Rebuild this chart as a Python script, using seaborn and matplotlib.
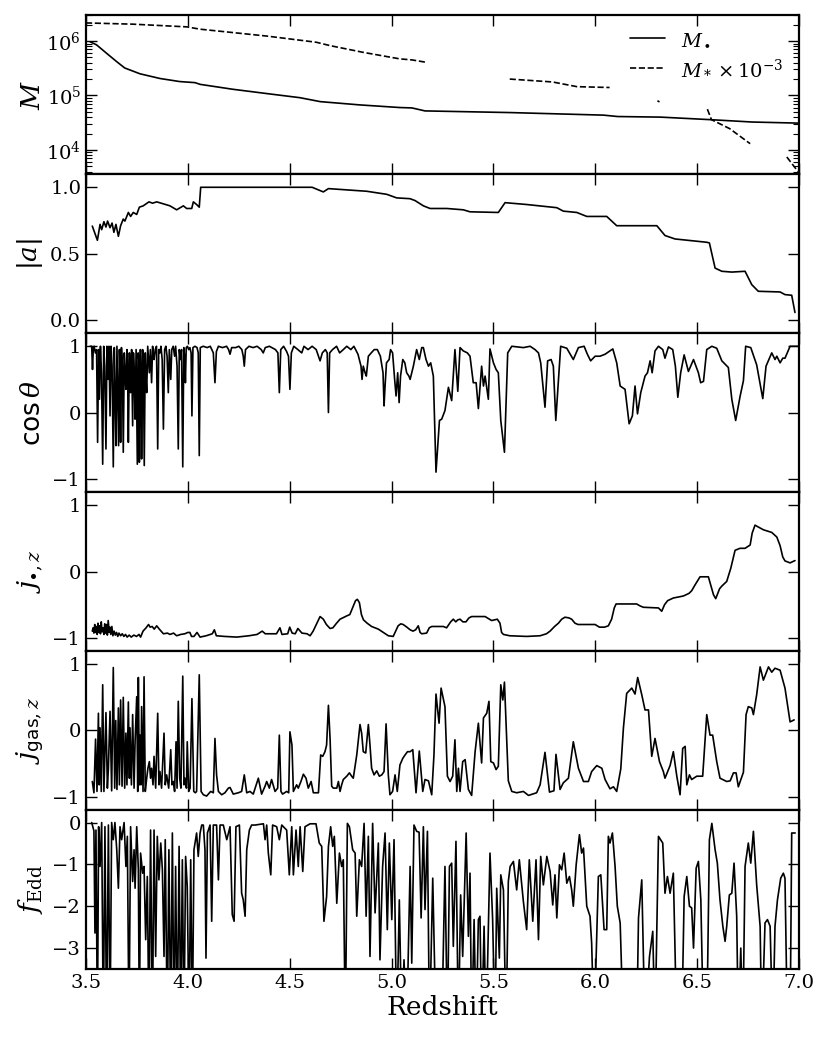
import matplotlib
matplotlib.use("Agg")
import matplotlib.pyplot as plt
import seaborn as sns
import pandas as pd
from matplotlib.lines import Line2D
from matplotlib.ticker import FixedLocator

# ---------------- data ----------------
mbh_pts = [(3.52, 9.7e5), (3.552, 8.5e5), (3.60, 6.0e5), (3.65, 4.2e5), (3.69, 3.2e5),
           (3.765, 2.5e5), (3.863, 2.05e5), (3.96, 1.8e5), (4.035, 1.72e5), (4.06, 1.6e5),
           (4.22, 1.3e5), (4.39, 1.08e5), (4.55, 9.1e4), (4.65, 7.7e4), (4.845, 6.7e4),
           (5.04, 6.0e4), (5.10, 5.9e4), (5.164, 5.2e4), (5.58, 4.85e4), (6.04, 4.35e4),
           (6.11, 4.1e4), (6.32, 4.0e4), (6.56, 3.6e4), (6.77, 3.25e4), (7.0, 3.1e4)]

mstar_segments = [
    [(3.50, 2.15e6), (3.73, 2.04e6), (3.995, 1.82e6), (4.06, 1.65e6), (4.39, 1.23e6),
     (4.63, 9.5e5), (4.70, 8.2e5), (4.86, 6.2e5), (5.04, 4.7e5), (5.10, 4.5e5), (5.164, 4.1e5)],
    [(5.58, 2.0e5), (5.79, 1.77e5), (5.91, 1.45e5), (6.07, 1.4e5)],
    [(6.305, 8.0e4), (6.315, 7.6e4)],
    [(6.55, 5.6e4), (6.57, 3.6e4), (6.66, 2.45e4), (6.76, 1.3e4)],
    [(6.94, 7.4e3), (6.995, 4.0e3)],
]

spin_pts = [(3.531, 0.707), (3.556, 0.60), (3.569, 0.72), (3.577, 0.68), (3.588, 0.74),
            (3.598, 0.70), (3.606, 0.745), (3.618, 0.695), (3.628, 0.73), (3.637, 0.66),
            (3.647, 0.72), (3.659, 0.63), (3.670, 0.71), (3.683, 0.76), (3.691, 0.745),
            (3.708, 0.81), (3.719, 0.78), (3.732, 0.81), (3.749, 0.795), (3.762, 0.85),
            (3.781, 0.86), (3.809, 0.89), (3.827, 0.88), (3.847, 0.89), (3.880, 0.875),
            (3.912, 0.86), (3.945, 0.83), (3.978, 0.86), (3.994, 0.84), (4.019, 0.84),
            (4.027, 0.89), (4.043, 0.87), (4.056, 0.85), (4.063, 1.0), (4.61, 1.0),
            (4.665, 0.965), (4.69, 0.99), (4.878, 0.97), (4.976, 0.947), (5.025, 0.92),
            (5.09, 0.914), (5.115, 0.90), (5.156, 0.86), (5.189, 0.84), (5.271, 0.84),
            (5.352, 0.83), (5.385, 0.815), (5.524, 0.81), (5.557, 0.884), (5.663, 0.87),
            (5.811, 0.846), (5.843, 0.82), (5.909, 0.81), (5.958, 0.78), (6.056, 0.78),
            (6.105, 0.71), (6.302, 0.71), (6.342, 0.636), (6.391, 0.61), (6.547, 0.585),
            (6.56, 0.58), (6.588, 0.39), (6.621, 0.366), (6.67, 0.36), (6.735, 0.366),
            (6.768, 0.265), (6.80, 0.215), (6.907, 0.21), (6.931, 0.19), (6.964, 0.185),
            (6.98, 0.055)]

cos_pts = [(3.520, 1.0), (3.528, 1.0), (3.532, 0.65), (3.536, 0.98), (3.540, 1.0), (3.546, 0.9),
           (3.552, 0.95), (3.557, -0.45), (3.562, 0.95), (3.566, 0.2), (3.571, 1.0), (3.576, 0.6),
           (3.582, -0.78), (3.587, 1.0), (3.592, 0.7), (3.598, -0.55), (3.603, 1.0), (3.608, 0.5),
           (3.613, 1.0), (3.618, -0.05), (3.623, 1.0), (3.628, 0.7), (3.634, -0.82), (3.639, 0.98),
           (3.643, 0.3), (3.647, -0.5), (3.652, 1.0), (3.656, 0.2), (3.660, -0.5), (3.664, 0.95),
           (3.667, 0.6), (3.670, -0.45), (3.674, 0.98), (3.679, 0.7), (3.683, -0.6), (3.688, 0.9),
           (3.692, 0.6), (3.696, 0.35), (3.701, 0.95), (3.704, 0.65), (3.708, -0.45), (3.713, 0.9),
           (3.716, 0.5), (3.719, 0.3), (3.724, 0.95), (3.729, -0.2), (3.733, 0.9), (3.737, 0.6),
           (3.741, -0.1), (3.746, 0.95), (3.752, -0.78), (3.756, 0.9), (3.759, 0.8), (3.762, -0.75),
           (3.767, 0.95), (3.770, 0.6), (3.773, -0.7), (3.778, 0.95), (3.782, 0.7), (3.786, -0.8),
           (3.791, 0.9), (3.794, 0.55), (3.798, 0.3), (3.803, 1.0), (3.807, 0.8), (3.811, 0.6),
           (3.816, 0.95), (3.819, 0.7), (3.822, 0.45), (3.827, 1.0), (3.831, 0.85), (3.834, 0.8),
           (3.840, 0.95), (3.846, 1.0), (3.852, -0.55), (3.857, 0.95), (3.863, 0.9), (3.868, 1.0),
           (3.874, 0.8), (3.880, -0.25), (3.886, 0.95), (3.892, 1.0), (3.898, 0.85), (3.904, 0.3),
           (3.909, 0.95), (3.916, 0.5), (3.921, 0.95), (3.928, 1.0), (3.935, 0.85), (3.940, 1.0),
           (3.947, 0.7), (3.953, -0.55), (3.958, 0.95), (3.963, 0.8), (3.969, 0.95), (3.975, -0.82),
           (3.980, 0.98), (3.985, 0.8), (3.988, 0.45), (3.992, 0.98), (3.998, 1.0), (4.004, 0.95),
           (4.010, 0.98), (4.016, 0.9), (4.020, -0.05), (4.025, 0.98), (4.035, 1.0), (4.045, 0.98),
           (4.051, 0.9), (4.056, -0.65), (4.061, 0.98), (4.075, 1.0), (4.095, 0.98), (4.110, 1.0),
           (4.125, 0.9), (4.133, 0.45), (4.140, 0.92), (4.150, 1.0), (4.170, 0.98), (4.190, 1.0),
           (4.200, 0.95), (4.207, 0.88), (4.215, 0.98), (4.235, 0.98), (4.250, 1.0), (4.265, 0.95),
           (4.272, 0.85), (4.277, 0.7), (4.283, 0.95), (4.300, 1.0), (4.320, 0.98), (4.340, 1.0),
           (4.360, 0.95), (4.370, 0.9), (4.380, 0.98), (4.400, 1.0), (4.430, 0.95), (4.442, 0.9),
           (4.449, 0.3), (4.456, 0.95), (4.470, 1.0), (4.485, 0.92), (4.494, 0.85), (4.501, 0.35),
           (4.508, 0.9), (4.520, 1.0), (4.540, 0.95), (4.559, 0.9), (4.570, 1.0), (4.590, 0.95),
           (4.610, 1.0), (4.630, 0.95), (4.649, 0.78), (4.660, 0.9), (4.675, 0.95), (4.684, 0.9),
           (4.690, 0.0), (4.696, 0.9), (4.710, 0.95), (4.730, 1.0), (4.745, 0.9), (4.763, 0.95),
           (4.780, 1.0), (4.800, 0.95), (4.815, 1.0), (4.835, 0.88), (4.850, 0.7), (4.855, 0.5),
           (4.861, 0.7), (4.870, 0.6), (4.876, 0.55), (4.886, 0.85), (4.900, 0.9), (4.915, 0.95),
           (4.930, 0.95), (4.945, 0.85), (4.958, 0.6), (4.963, 0.1), (4.968, 0.4), (4.975, 0.75),
           (4.988, 0.8), (4.995, 0.95), (5.005, 0.9), (5.015, 0.5), (5.022, 0.25), (5.030, 0.6),
           (5.037, 0.15), (5.044, 0.55), (5.055, 0.8), (5.065, 0.75), (5.074, 0.6), (5.085, 0.55),
           (5.091, 0.5), (5.107, 0.7), (5.123, 0.95), (5.136, 0.8), (5.148, 0.98), (5.156, 0.98),
           (5.169, 0.8), (5.181, 0.7), (5.192, 0.75), (5.205, 0.55), (5.218, -0.9), (5.235, -0.12),
           (5.246, -0.1), (5.262, 0.03), (5.279, 0.38), (5.295, 0.18), (5.311, 0.95), (5.325, 0.32),
           (5.336, 0.98), (5.352, 0.93), (5.372, 0.9), (5.385, 0.85), (5.401, 0.45), (5.415, 0.45),
           (5.426, 0.06), (5.442, 0.7), (5.451, 0.4), (5.459, 0.55), (5.475, 0.2), (5.483, 0.96),
           (5.500, 0.75), (5.513, 0.65), (5.524, 0.6), (5.536, -0.12), (5.554, -0.6), (5.570, 0.9),
           (5.590, 1.0), (5.647, 0.98), (5.680, 1.0), (5.704, 0.95), (5.721, 0.9), (5.732, 0.75),
           (5.753, 0.08), (5.766, 0.78), (5.783, 0.8), (5.794, 0.7), (5.806, -0.12), (5.830, 1.0),
           (5.860, 0.97), (5.892, 0.8), (5.917, 0.98), (5.945, 1.0), (5.961, 0.88), (5.977, 0.78),
           (5.999, 0.85), (6.023, 0.85), (6.048, 0.88), (6.086, 0.96), (6.105, 0.75), (6.122, 0.4),
           (6.146, 0.35), (6.166, -0.17), (6.182, -0.05), (6.195, 0.4), (6.207, -0.02), (6.223, 0.3),
           (6.244, 0.55), (6.256, 0.6), (6.269, 0.78), (6.279, 0.6), (6.293, 0.93), (6.310, 1.0),
           (6.331, 0.95), (6.342, 0.82), (6.359, 0.99), (6.380, 0.95), (6.393, 0.7), (6.405, 0.23),
           (6.419, 0.6), (6.436, 0.87), (6.457, 0.62), (6.482, 0.8), (6.506, 0.6), (6.517, 0.45),
           (6.531, 0.47), (6.547, 0.95), (6.572, 1.0), (6.596, 0.97), (6.621, 0.78), (6.653, 0.68),
           (6.670, 0.2), (6.689, -0.12), (6.711, 0.25), (6.727, 0.48), (6.738, 1.0), (6.763, 0.98),
           (6.792, 0.72), (6.822, 0.21), (6.838, 0.7), (6.855, 0.82), (6.866, 0.9), (6.882, 0.8),
           (6.891, 0.85), (6.907, 0.75), (6.920, 0.82), (6.931, 0.82), (6.956, 1.0), (6.997, 1.0)]

jbh_pts = [(3.531, -0.90), (3.535, -0.85), (3.539, -0.93), (3.543, -0.80), (3.547, -0.92),
           (3.551, -0.83), (3.555, -0.95), (3.559, -0.78), (3.563, -0.92), (3.567, -0.82),
           (3.571, -0.94), (3.575, -0.76), (3.579, -0.91), (3.583, -0.85), (3.588, -0.95),
           (3.592, -0.79), (3.596, -0.93), (3.600, -0.80), (3.605, -0.96), (3.609, -0.74),
           (3.614, -0.92), (3.618, -0.84), (3.622, -0.95), (3.627, -0.83), (3.632, -0.97),
           (3.638, -0.90), (3.644, -0.96), (3.650, -0.92), (3.656, -0.98), (3.662, -0.93),
           (3.670, -0.97), (3.678, -0.94), (3.686, -0.98), (3.694, -0.95), (3.702, -0.99),
           (3.712, -0.96), (3.722, -0.99), (3.735, -0.96), (3.748, -0.98), (3.760, -0.95),
           (3.768, -0.99), (3.780, -0.90), (3.795, -0.85), (3.807, -0.80), (3.815, -0.84),
           (3.825, -0.83), (3.835, -0.87), (3.847, -0.82), (3.860, -0.87), (3.880, -0.94),
           (3.900, -0.93), (3.912, -0.95), (3.930, -0.93), (3.945, -0.97), (3.965, -0.95),
           (3.985, -0.94), (4.000, -0.92), (4.010, -0.92), (4.018, -0.98), (4.030, -0.98),
           (4.045, -0.92), (4.060, -0.99), (4.090, -0.97), (4.120, -0.94), (4.130, -0.88),
           (4.140, -0.97), (4.180, -0.98), (4.240, -0.99), (4.300, -0.97), (4.340, -0.95),
           (4.365, -0.90), (4.380, -0.94), (4.435, -0.94), (4.452, -0.85), (4.462, -0.95),
           (4.490, -0.94), (4.500, -0.84), (4.512, -0.93), (4.527, -0.94), (4.540, -0.86),
           (4.560, -0.93), (4.585, -0.94), (4.600, -0.97), (4.615, -0.90), (4.649, -0.68),
           (4.665, -0.72), (4.680, -0.80), (4.698, -0.86), (4.712, -0.85), (4.730, -0.78),
           (4.747, -0.72), (4.780, -0.67), (4.795, -0.65), (4.812, -0.52), (4.823, -0.44),
           (4.832, -0.42), (4.842, -0.47), (4.852, -0.65), (4.862, -0.73), (4.880, -0.78),
           (4.902, -0.83), (4.935, -0.87), (4.960, -0.92), (4.984, -0.97), (5.008, -0.98),
           (5.020, -0.90), (5.032, -0.82), (5.045, -0.79), (5.057, -0.80), (5.075, -0.84),
           (5.091, -0.88), (5.105, -0.90), (5.118, -0.88), (5.131, -0.82), (5.140, -0.92),
           (5.148, -0.94), (5.172, -0.93), (5.185, -0.85), (5.197, -0.83), (5.254, -0.83),
           (5.270, -0.85), (5.290, -0.76), (5.303, -0.72), (5.315, -0.76), (5.325, -0.73),
           (5.336, -0.72), (5.350, -0.76), (5.365, -0.76), (5.380, -0.70), (5.393, -0.68),
           (5.459, -0.68), (5.475, -0.71), (5.491, -0.74), (5.505, -0.73), (5.519, -0.72),
           (5.532, -0.78), (5.540, -0.92), (5.549, -0.95), (5.580, -0.97), (5.663, -0.98),
           (5.729, -0.97), (5.760, -0.94), (5.778, -0.90), (5.800, -0.83), (5.819, -0.78),
           (5.835, -0.72), (5.851, -0.69), (5.870, -0.70), (5.884, -0.72), (5.900, -0.78),
           (5.915, -0.80), (5.999, -0.80), (6.020, -0.84), (6.045, -0.84), (6.064, -0.82),
           (6.080, -0.72), (6.093, -0.55), (6.102, -0.49), (6.203, -0.49), (6.220, -0.52),
           (6.236, -0.54), (6.310, -0.55), (6.326, -0.60), (6.340, -0.50), (6.355, -0.44),
           (6.383, -0.40), (6.432, -0.37), (6.460, -0.33), (6.473, -0.29), (6.490, -0.20),
           (6.514, -0.08), (6.555, -0.08), (6.568, -0.22), (6.580, -0.35), (6.591, -0.41),
           (6.610, -0.26), (6.621, -0.22), (6.645, -0.15), (6.665, 0.05), (6.686, 0.32),
           (6.710, 0.35), (6.735, 0.35), (6.760, 0.40), (6.770, 0.58), (6.784, 0.70),
           (6.795, 0.68), (6.825, 0.63), (6.866, 0.59), (6.891, 0.52), (6.907, 0.39),
           (6.920, 0.22), (6.931, 0.16), (6.956, 0.13), (6.980, 0.165)]

jgas_pts = [(3.531, -0.77), (3.539, -0.94), (3.547, -0.13), (3.554, -0.92), (3.561, 0.26),
            (3.565, -0.82), (3.569, 0.04), (3.575, -0.92), (3.582, 0.69), (3.588, -0.92),
            (3.598, 0.27), (3.605, -0.87), (3.610, -0.57), (3.618, 0.29), (3.626, -0.91),
            (3.634, 0.95), (3.641, -0.87), (3.646, 0.15), (3.652, -0.89), (3.659, 0.34),
            (3.664, -0.82), (3.670, 0.46), (3.677, -0.84), (3.683, 0.50), (3.690, -0.87),
            (3.696, -0.04), (3.701, -0.82), (3.708, 0.43), (3.713, -0.72), (3.716, 0.04),
            (3.723, -0.82), (3.729, 0.24), (3.736, -0.87), (3.741, -0.17), (3.749, 0.51),
            (3.754, -0.92), (3.757, 0.80), (3.762, -0.82), (3.765, -0.07), (3.770, -0.82),
            (3.773, 0.36), (3.780, -0.92), (3.785, 0.81), (3.791, -0.92), (3.798, -0.72),
            (3.804, -0.57), (3.811, -0.47), (3.817, -0.72), (3.822, -0.57), (3.829, -0.82),
            (3.834, -0.39), (3.842, -0.87), (3.852, 0.26), (3.858, -0.82), (3.863, -0.62),
            (3.871, -0.87), (3.883, -0.04), (3.889, -0.82), (3.896, -0.67), (3.906, -0.87),
            (3.916, -0.29), (3.922, -0.82), (3.929, -0.77), (3.935, -0.92), (3.942, -0.17),
            (3.947, -0.87), (3.953, 0.44), (3.960, -0.72), (3.966, -0.87), (3.975, 0.82),
            (3.981, -0.82), (3.986, -0.72), (3.993, -0.87), (3.997, -0.17), (4.004, -0.92),
            (4.011, -0.87), (4.020, 0.48), (4.029, -0.92), (4.037, -0.94), (4.043, -0.92),
            (4.056, 0.84), (4.065, -0.92), (4.076, -0.97), (4.092, -0.99), (4.112, -0.92),
            (4.125, -0.94), (4.133, -0.12), (4.141, -0.67), (4.150, -0.92), (4.166, -0.97),
            (4.182, -0.94), (4.199, -0.87), (4.207, -0.86), (4.223, -0.96), (4.248, -0.94),
            (4.264, -0.92), (4.277, -0.67), (4.289, -0.94), (4.305, -0.92), (4.321, -0.96),
            (4.346, -0.72), (4.362, -0.96), (4.379, -0.84), (4.387, -0.77), (4.400, -0.87),
            (4.411, -0.74), (4.428, -0.92), (4.441, -0.87), (4.449, -0.07), (4.457, -0.92),
            (4.465, -0.96), (4.485, -0.92), (4.495, -0.94), (4.501, -0.02), (4.511, -0.22),
            (4.518, -0.92), (4.534, -0.82), (4.542, -0.87), (4.555, -0.77), (4.567, -0.66),
            (4.580, -0.72), (4.591, -0.87), (4.605, -0.77), (4.616, -0.94), (4.641, -0.94),
            (4.652, -0.37), (4.662, -0.39), (4.673, -0.32), (4.681, -0.22), (4.690, 0.38),
            (4.698, -0.12), (4.706, -0.84), (4.714, -0.87), (4.731, -0.87), (4.739, -0.77),
            (4.747, -0.92), (4.755, -0.82), (4.763, -0.74), (4.780, -0.69), (4.793, -0.64),
            (4.804, -0.69), (4.812, -0.72), (4.829, -0.37), (4.845, 0.09), (4.853, -0.04),
            (4.861, -0.32), (4.873, -0.34), (4.886, 0.09), (4.894, -0.22), (4.902, -0.57),
            (4.914, -0.67), (4.927, -0.61), (4.940, -0.69), (4.952, -0.67), (4.963, -0.62),
            (4.973, 0.10), (4.984, -0.67), (4.992, -0.97), (5.005, -0.92), (5.017, -0.67),
            (5.028, -0.92), (5.041, -0.52), (5.055, -0.42), (5.066, -0.37), (5.078, -0.32),
            (5.091, -0.32), (5.104, -0.29), (5.120, -0.94), (5.136, -0.31), (5.153, -0.92),
            (5.164, -0.74), (5.181, -0.76), (5.197, -0.97), (5.208, -0.37), (5.218, 0.55),
            (5.233, 0.11), (5.243, 0.64), (5.262, 0.36), (5.274, -0.69), (5.287, -0.77),
            (5.300, -0.69), (5.311, -0.14), (5.320, -0.92), (5.328, -0.57), (5.336, -0.92),
            (5.349, -0.47), (5.361, -0.44), (5.377, -0.89), (5.393, -0.98), (5.410, -0.32),
            (5.426, 0.11), (5.442, -0.49), (5.451, 0.19), (5.467, 0.26), (5.478, 0.44),
            (5.487, -0.47), (5.500, -0.49), (5.513, -0.59), (5.524, -0.54), (5.536, 0.69),
            (5.546, 0.46), (5.554, 0.73), (5.573, -0.76), (5.590, -0.92), (5.614, -0.94),
            (5.647, -0.92), (5.672, -0.98), (5.712, -0.94), (5.729, -0.82), (5.753, -0.33),
            (5.775, -0.93), (5.797, -0.91), (5.807, -0.36), (5.827, -0.89), (5.843, -0.79),
            (5.868, -0.72), (5.892, -0.17), (5.917, -0.57), (5.942, -0.77), (5.966, -0.77),
            (5.982, -0.62), (6.007, -0.53), (6.032, -0.57), (6.048, -0.74), (6.072, -0.88),
            (6.089, -0.85), (6.105, -0.92), (6.125, -0.58), (6.138, 0.04), (6.154, 0.56),
            (6.179, 0.64), (6.195, 0.55), (6.208, 0.80), (6.228, 0.54), (6.244, 0.31),
            (6.261, 0.31), (6.277, -0.39), (6.293, -0.12), (6.315, -0.47), (6.334, -0.62),
            (6.342, -0.72), (6.367, -0.53), (6.383, -0.32), (6.400, -0.69), (6.416, -0.97),
            (6.429, -0.27), (6.441, -0.24), (6.449, -0.82), (6.462, -0.67), (6.473, -0.74),
            (6.498, -0.69), (6.527, -0.69), (6.547, 0.24), (6.563, -0.07), (6.576, -0.07),
            (6.596, -0.47), (6.612, -0.72), (6.645, -0.77), (6.662, -0.76), (6.678, -0.64),
            (6.691, -0.64), (6.702, -0.85), (6.727, -0.63), (6.740, 0.24), (6.751, 0.36),
            (6.768, 0.34), (6.776, 0.24), (6.792, 0.54), (6.809, 0.96), (6.825, 0.76),
            (6.850, 0.96), (6.866, 0.88), (6.882, 0.94), (6.907, 0.91), (6.931, 0.64),
            (6.956, 0.13), (6.976, 0.16)]

OFF = -5.0  # below the plotted range
fedd_pts = [(3.528, 0.0), (3.539, -0.2), (3.544, -2.64), (3.549, -0.18), (3.556, OFF),
            (3.562, -0.1), (3.569, -1.05), (3.577, 0.0), (3.585, OFF), (3.593, -0.1),
            (3.601, OFF), (3.610, -0.06), (3.618, OFF), (3.626, 0.0), (3.634, -0.41),
            (3.642, 0.0), (3.651, -0.65), (3.659, -1.57), (3.667, -0.1), (3.675, -0.41),
            (3.687, 0.0), (3.696, -1.05), (3.703, -0.33), (3.711, OFF), (3.719, -0.1),
            (3.729, -1.41), (3.736, -0.65), (3.741, -1.57), (3.749, -0.1), (3.757, -1.13),
            (3.762, OFF), (3.768, -0.73), (3.778, -1.21), (3.785, -1.05), (3.793, -2.8),
            (3.801, -1.29), (3.809, OFF), (3.817, -0.18), (3.826, OFF), (3.834, -0.18),
            (3.842, -3.2), (3.850, -0.33), (3.858, -1.37), (3.867, -0.49), (3.875, -1.13),
            (3.883, -3.2), (3.889, -0.41), (3.899, OFF), (3.907, -0.65), (3.916, OFF),
            (3.924, -0.25), (3.932, OFF), (3.940, -1.05), (3.948, OFF), (3.957, -0.57),
            (3.965, OFF), (3.973, -0.89), (3.981, OFF), (3.989, -0.81), (3.997, -1.53),
            (4.006, OFF), (4.014, -0.89), (4.022, OFF), (4.030, -0.65), (4.038, -0.41),
            (4.043, -0.25), (4.051, -0.81), (4.060, -0.25), (4.068, -0.06), (4.076, -0.06),
            (4.084, -0.65), (4.089, -3.24), (4.096, -0.25), (4.109, -0.06), (4.117, -2.36),
            (4.125, -0.06), (4.141, -0.06), (4.150, -1.37), (4.158, -0.06), (4.174, -0.06),
            (4.191, -0.41), (4.207, -0.1), (4.218, -2.2), (4.227, -2.36), (4.236, -0.1),
            (4.253, -0.06), (4.264, -1.69), (4.272, -1.85), (4.281, -2.24), (4.289, -0.65),
            (4.302, -0.18), (4.313, -0.06), (4.330, -0.06), (4.371, -0.03), (4.379, -0.41),
            (4.387, -0.06), (4.395, -0.73), (4.407, -1.25), (4.416, -0.06), (4.436, -0.1),
            (4.449, -0.41), (4.461, -0.06), (4.485, -0.18), (4.498, -1.25), (4.510, -0.1),
            (4.518, -1.25), (4.531, -0.18), (4.542, -1.05), (4.551, -0.1), (4.564, -1.17),
            (4.575, -0.1), (4.600, -0.03), (4.629, -0.03), (4.645, -0.49), (4.657, -0.57),
            (4.668, -2.36), (4.681, -1.77), (4.690, -0.57), (4.701, -0.1), (4.711, -0.57),
            (4.719, -0.33), (4.731, -1.93), (4.744, -0.73), (4.755, -1.05), (4.763, -0.89),
            (4.773, OFF), (4.783, -0.02), (4.793, -0.1), (4.809, -0.65), (4.821, -0.73),
            (4.829, -2.24), (4.842, -0.89), (4.853, -1.05), (4.865, -0.02), (4.875, -2.24),
            (4.886, -0.33), (4.894, -3.2), (4.907, -0.02), (4.919, -2.16), (4.935, -0.49),
            (4.943, -3.28), (4.956, -1.05), (4.968, -0.25), (4.979, -2.56), (4.989, -0.49),
            (5.001, -2.32), (5.012, -0.41), (5.025, OFF), (5.038, -1.85), (5.050, OFF),
            (5.061, -3.28), (5.074, OFF), (5.091, -1.05), (5.099, -3.36), (5.110, -0.06),
            (5.123, -0.21), (5.135, -0.23), (5.145, -2.28), (5.156, -0.1), (5.164, -2.08),
            (5.176, -0.21), (5.186, OFF), (5.202, -1.33), (5.218, OFF), (5.246, OFF),
            (5.262, -1.05), (5.274, OFF), (5.284, -1.05), (5.295, -0.97), (5.303, -2.96),
            (5.316, -0.45), (5.328, OFF), (5.339, -1.73), (5.349, -3.2), (5.366, -0.25),
            (5.377, -2.72), (5.385, -1.21), (5.393, OFF), (5.405, -2.32), (5.415, OFF),
            (5.426, -2.32), (5.434, -2.24), (5.442, OFF), (5.454, -2.48), (5.464, OFF),
            (5.483, -0.73), (5.496, -2.32), (5.508, OFF), (5.516, -1.57), (5.529, -3.24),
            (5.536, -1.25), (5.549, -1.61), (5.562, OFF), (5.573, -1.41), (5.582, -1.05),
            (5.598, -0.93), (5.614, -1.61), (5.627, -0.89), (5.647, -1.89), (5.663, -2.56),
            (5.676, -0.89), (5.693, -2.36), (5.709, -0.89), (5.721, -2.8), (5.732, -0.81),
            (5.745, -1.49), (5.762, -0.81), (5.778, -1.17), (5.791, -1.97), (5.802, -1.25),
            (5.811, -2.28), (5.824, -1.01), (5.835, -1.13), (5.847, -0.73), (5.860, -1.45),
            (5.873, -1.29), (5.884, -1.61), (5.892, -2.0), (5.906, -1.01), (5.922, -0.29),
            (5.933, -0.73), (5.942, -0.61), (5.958, -2.0), (5.974, -2.24), (5.982, -2.88),
            (5.994, OFF), (6.015, -1.29), (6.027, -1.25), (6.043, -2.56), (6.056, -2.56),
            (6.064, -0.33), (6.072, -0.49), (6.084, -0.25), (6.097, -1.05), (6.108, -2.0),
            (6.122, -2.4), (6.138, OFF), (6.203, OFF), (6.212, -2.28), (6.228, -1.37),
            (6.244, OFF), (6.266, -3.2), (6.282, -2.6), (6.293, OFF), (6.310, -0.33),
            (6.331, -0.49), (6.342, -1.69), (6.354, -1.29), (6.367, -1.69), (6.383, -1.21),
            (6.400, OFF), (6.424, OFF), (6.436, -1.77), (6.449, -1.29), (6.462, -2.0),
            (6.473, -2.04), (6.482, -3.0), (6.495, -1.09), (6.506, -0.93), (6.518, -1.85),
            (6.531, OFF), (6.547, OFF), (6.560, -0.41), (6.572, -0.02), (6.588, -0.65),
            (6.599, -0.97), (6.612, -1.85), (6.626, -2.48), (6.637, -2.84), (6.645, -2.48),
            (6.658, -1.73), (6.670, -1.69), (6.681, -0.97), (6.694, -2.24), (6.702, OFF),
            (6.714, -3.0), (6.724, OFF), (6.735, -1.05), (6.751, -0.49), (6.763, -0.97),
            (6.776, -0.21), (6.792, -1.49), (6.809, -2.48), (6.817, OFF), (6.833, -2.4),
            (6.845, -2.32), (6.858, -2.48), (6.871, OFF), (6.882, -2.48), (6.894, -1.85),
            (6.910, -1.33), (6.923, -1.21), (6.931, -1.33), (6.943, OFF), (6.956, OFF),
            (6.964, -0.25), (6.981, -0.25)]

x_ticks = [3.5, 4.0, 4.5, 5.0, 5.5, 6.0, 6.5, 7.0]
y_labels = [r"$M$", r"$|a|$", r"$\mathsf{cos}\,\theta$", r"$j_{\bullet,z}$",
            r"$j_{\mathsf{gas},z}$", r"$f_{\rm Edd}$"]
legend_labels = [r"$M_\bullet$", r"$M_*\times10^{-3}$"]

# ---------------- style ----------------
sns.set_theme(style="ticks")
plt.rcParams.update({
    "font.family": ["DejaVu Serif"],
    "mathtext.fontset": "dejavuserif",
    "axes.edgecolor": "black",
    "axes.labelcolor": "black",
    "text.color": "black",
    "xtick.color": "black",
    "ytick.color": "black",
    "axes.linewidth": 1.6,
    "xtick.direction": "in",
    "ytick.direction": "in",
    "xtick.top": True,
    "ytick.right": True,
    "xtick.major.size": 8,
    "ytick.major.size": 8,
    "xtick.minor.size": 4,
    "ytick.minor.size": 4,
    "xtick.major.width": 1.0,
    "ytick.major.width": 1.0,
    "xtick.minor.width": 0.8,
    "ytick.minor.width": 0.8,
    "xtick.labelsize": 14,
    "ytick.labelsize": 14,
    "axes.labelsize": 19,
})

fig, axes = plt.subplots(6, 1, figsize=(8.3, 10.38), dpi=100, sharex=True)
fig.subplots_adjust(left=0.1036, right=0.9627, top=0.9855, bottom=0.0665, hspace=0)

LW = 1.2


def draw(ax, pts, **kw):
    df = pd.DataFrame(pts, columns=["z", "v"])
    sns.lineplot(data=df, x="z", y="v", ax=ax, color="black", lw=LW,
                 estimator=None, sort=False, legend=False, **kw)


# panel 1: masses
ax = axes[0]
draw(ax, mbh_pts)
seg_rows = [(i, z, v) for i, seg in enumerate(mstar_segments) for z, v in seg]
dfs = pd.DataFrame(seg_rows, columns=["seg", "z", "v"])
sns.lineplot(data=dfs, x="z", y="v", units="seg", estimator=None, ax=ax, color="black",
             lw=LW, linestyle="--", sort=False, legend=False)
ax.set_yscale("log")
ax.set_ylim(3.6e3, 3.0e6)
handles = [Line2D([], [], color="black", lw=LW, ls="-"),
           Line2D([], [], color="black", lw=LW, ls="--")]
ax.legend(handles, legend_labels, loc="upper right", frameon=False, fontsize=14,
          handlelength=1.8, borderaxespad=0.4)

# panel 2: spin
ax = axes[1]
draw(ax, spin_pts)
ax.set_ylim(-0.1, 1.1)
ax.yaxis.set_major_locator(FixedLocator([0.0, 0.5, 1.0]))

# panel 3
ax = axes[2]
draw(ax, cos_pts)
ax.set_ylim(-1.2, 1.2)
ax.yaxis.set_major_locator(FixedLocator([-1, 0, 1]))

# panel 4
ax = axes[3]
draw(ax, jbh_pts)
ax.set_ylim(-1.2, 1.2)
ax.yaxis.set_major_locator(FixedLocator([-1, 0, 1]))

# panel 5
ax = axes[4]
draw(ax, jgas_pts)
ax.set_ylim(-1.2, 1.2)
ax.yaxis.set_major_locator(FixedLocator([-1, 0, 1]))

# panel 6
ax = axes[5]
draw(ax, fedd_pts)
ax.set_ylim(-3.5, 0.3)
ax.yaxis.set_major_locator(FixedLocator([-3, -2, -1, 0]))

for ax, lab in zip(axes, y_labels):
    ax.set_ylabel(lab)
    ax.yaxis.set_label_coords(-0.058, 0.5)
    ax.set_xlim(3.5, 7.0)
    ax.xaxis.set_major_locator(FixedLocator(x_ticks))
    ax.set_xlabel("")
    ax.tick_params(which="both", direction="in", top=True, right=True)

axes[-1].set_xlabel("Redshift", fontsize=19, labelpad=2)
axes[-1].set_xticks(x_ticks)
axes[-1].set_xticklabels(["%.1f" % t for t in x_ticks])

fig.savefig("out.png", dpi=100)
